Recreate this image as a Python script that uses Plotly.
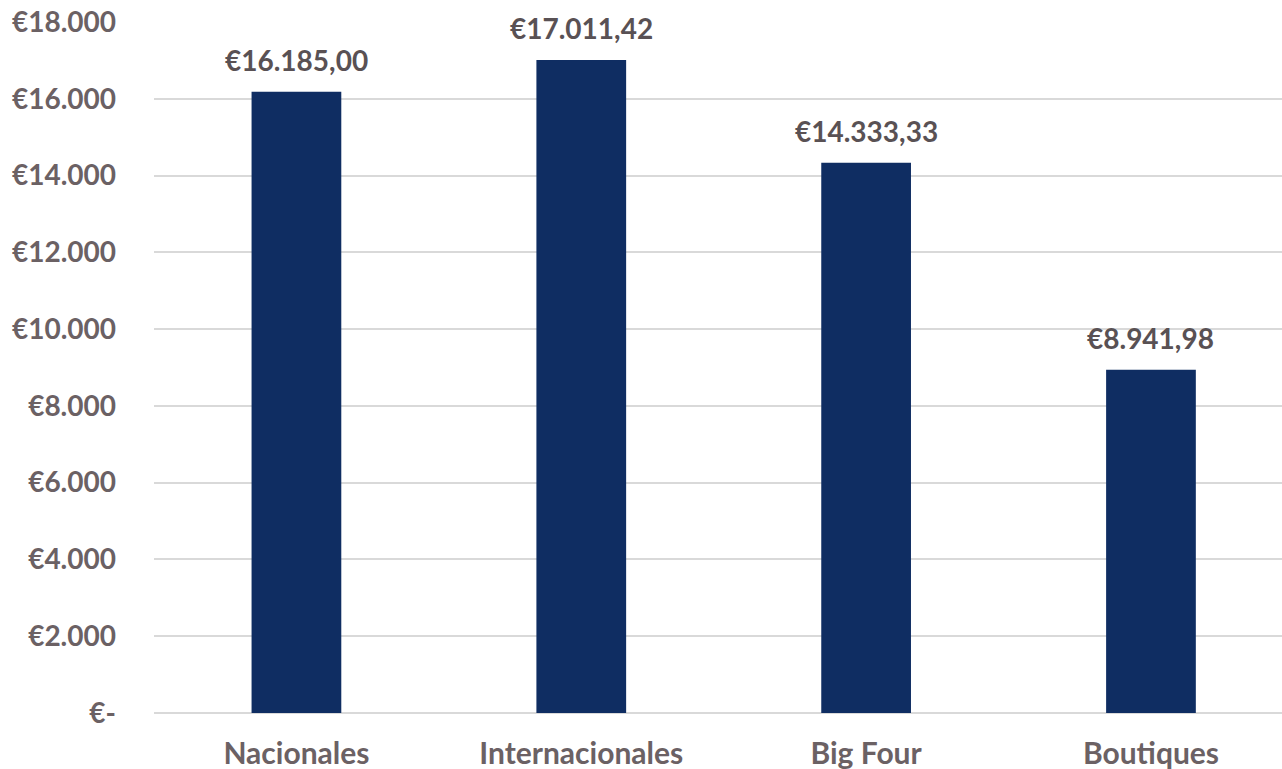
import plotly.graph_objects as go

categories = ["Nacionales", "Internacionales", "Big Four", "Boutiques"]
values = [16185.00, 17011.42, 14333.33, 8941.98]
value_labels = ["€16.185,00", "€17.011,42", "€14.333,33", "€8.941,98"]
tick_vals = [0, 2000, 4000, 6000, 8000, 10000, 12000, 14000, 16000, 18000]
tick_text = ["€-", "€2.000", "€4.000", "€6.000", "€8.000", "€10.000", "€12.000", "€14.000", "€16.000", "€18.000"]

FONT = "Lato"
AXIS_COLOR = "#6b6164"
LABEL_COLOR = "#595154"

fig = go.Figure(go.Bar(
    x=categories, y=values,
    marker=dict(color="#0f2d62", line=dict(width=0)),
    width=0.315,
))

for c, v, t in zip(categories, values, value_labels):
    fig.add_annotation(x=c, y=v, text=t, showarrow=False, yanchor="bottom",
                       yshift=13, font=dict(family=FONT, size=28, color=LABEL_COLOR, weight="bold"))

fig.update_layout(
    width=1282, height=769,
    margin=dict(l=154, r=0, t=22, b=56, autoexpand=False),
    paper_bgcolor="white", plot_bgcolor="white",
    showlegend=False,
    font=dict(family=FONT),
    xaxis=dict(range=[-0.5, 3.46], showgrid=False, showline=False, zeroline=False,
               automargin=False,
               tickfont=dict(family=FONT, size=30, color=AXIS_COLOR, weight="bold"),
               ticks="", ticklabelstandoff=20),
    yaxis=dict(range=[0, 18000], tickvals=tick_vals, ticktext=tick_text,
               automargin=False,
               showgrid=True, gridcolor="#d9d9d9", gridwidth=1.5,
               zeroline=True, zerolinecolor="#d9d9d9", zerolinewidth=1.5,
               tickfont=dict(family=FONT, size=28, color=AXIS_COLOR, weight="bold"),
               ticks="", ticklabelstandoff=37),
)

fig.write_html("out.html", config={"displayModeBar": False},
               post_script="document.body.style.margin='0';document.body.style.overflow='hidden';")
